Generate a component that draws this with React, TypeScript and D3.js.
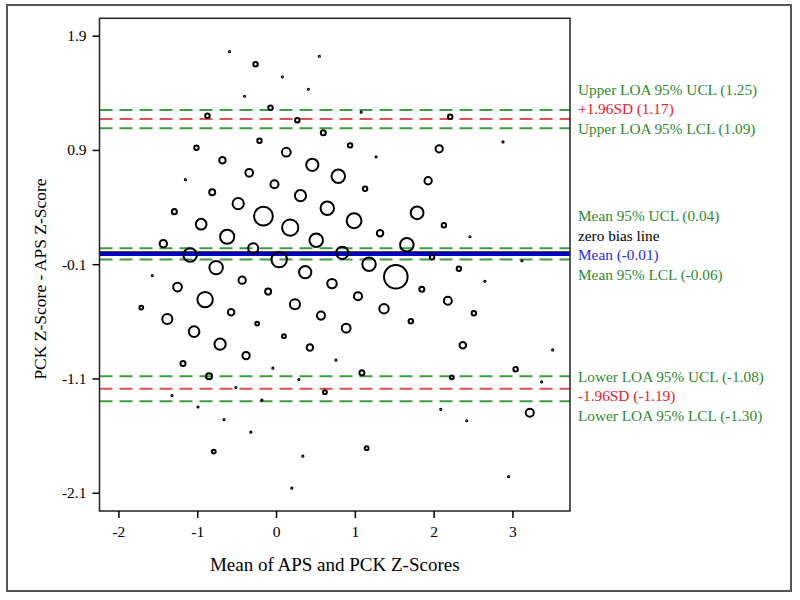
import React, { useEffect, useRef } from "react";
import * as d3 from "d3";

// Bubble Bland-Altman plot: mean of the two z-scores vs their difference
const meanX = [
  -0.59, 0.55, -0.26, 0.08, 0.41, -0.4, -0.07, -0.87, 0.27, 0.6,
  -0.21, -1.01, -0.68, 0.13, 0.46, -1.15, -0.34, 0.79, -0.02, -0.81,
  0.31, -1.29, -0.48, -0.16, 0.65, -0.95, 0.18, -0.62, -1.43, -0.29,
  0.51, -1.09, 0.04, -0.76, 0.37, 0.84, 1.18, 1.52, 1.08, 2.21,
  2.88, 0.94, 1.27, 2.07, 1.13, 1.93, 0.99, 1.79, 1.32, 2.13,
  2.46, 1.66, 1.98, 3.12, 2.32, 2.65, -1.57, -1.25, -0.43, 0.71,
  -1.71, -0.9, -0.1, 0.24, -1.38, -0.57, 0.57, -1.04, -0.24, -0.71,
  0.1, 0.43, -0.38, -1.18, -0.04, 0.76, -0.85, 0.29, -0.51, 0.62,
  -1.32, -0.18, -0.99, -0.66, -0.32, -0.79, 0.34, 0.2, 1.85, 1.04,
  1.37, 2.18, 1.71, 2.51, 0.89, 2.37, 3.51, 1.09, 2.23, 3.04,
  3.37, 2.09, 2.42, 3.22, 1.15, 2.95,
];
const diffY = [
  1.76, 1.72, 1.65, 1.54, 1.43, 1.37, 1.27, 1.2, 1.16, 1.05,
  0.98, 0.92, 0.81, 0.88, 0.77, 0.64, 0.7, 0.67, 0.6, 0.53,
  0.5, 0.36, 0.43, 0.32, 0.39, 0.25, 0.22, 0.14, 0.08, 0.04,
  0.11, -0.02, -0.06, -0.13, -0.17, 0.0, -0.1, -0.21, 1.23, 1.19,
  0.97, 0.94, 0.84, 0.91, 0.56, 0.63, 0.28, 0.35, 0.17, 0.24,
  0.14, 0.07, -0.04, -0.07, -0.14, -0.25, -0.2, -0.3, -0.24, -0.27,
  -0.48, -0.41, -0.34, -0.45, -0.58, -0.52, -0.55, -0.69, -0.62, -0.8,
  -0.73, -0.83, -0.9, -0.97, -1.01, -0.94, -1.08, -1.11, -1.18, -1.22,
  -1.25, -1.29, -1.35, -1.46, -1.57, -1.74, -1.78, -2.06, -0.32, -0.38,
  -0.49, -0.42, -0.6, -0.53, -0.66, -0.81, -0.85, -1.05, -1.09, -1.02,
  -1.13, -1.37, -1.47, -1.4, -1.71, -1.96,
];
const freq = [
  1, 1, 5, 1, 1, 1, 5, 5, 5, 6,
  5, 5, 9, 15, 27, 1, 12, 32, 13, 8,
  23, 6, 23, 59, 32, 21, 45, 35, 11, 19,
  32, 32, 41, 32, 27, 27, 32, 90, 1, 5,
  1, 5, 1, 11, 5, 11, 38, 29, 9, 5,
  1, 32, 5, 1, 5, 1, 1, 15, 11, 17,
  4, 41, 8, 19, 19, 9, 13, 21, 4, 23,
  4, 9, 11, 6, 1, 1, 8, 1, 1, 4,
  1, 1, 1, 1, 1, 4, 1, 1, 6, 13,
  17, 13, 5, 5, 15, 9, 1, 6, 4, 5,
  1, 1, 1, 13, 4, 1,
];

const xTicks = [-2, -1, 0, 1, 2, 3];
const yTicks = [1.9, 0.9, -0.1, -1.1, -2.1];

const refLabels = [
  "Upper LOA 95% UCL (1.25)",
  "+1.96SD (1.17)",
  "Upper LOA 95% LCL (1.09)",
  "Mean 95% UCL (0.04)",
  "zero bias line",
  "Mean (-0.01)",
  "Mean 95% LCL (-0.06)",
  "Lower LOA 95% UCL (-1.08)",
  "-1.96SD (-1.19)",
  "Lower LOA 95% LCL (-1.30)",
];
const refValues = [1.25, 1.17, 1.09, 0.04, 0, -0.01, -0.06, -1.08, -1.19, -1.3];
const refKinds = ["ci", "loa", "ci", "ci", "zero", "mean", "ci", "ci", "loa", "ci"];
const refGroups = [0, 0, 0, 1, 1, 1, 1, 2, 2, 2];

const lineColor: Record<string, string> = {
  ci: "#3f9b3f",
  loa: "#e05050",
  zero: "#000000",
  mean: "#0000cc",
};
const textColor: Record<string, string> = {
  ci: "#2f8a2f",
  loa: "#e8202a",
  zero: "#000000",
  mean: "#2a2ae6",
};

const FONT = "'Liberation Serif', 'Times New Roman', serif";

const App: React.FC = () => {
  const svgRef = useRef<SVGSVGElement>(null);

  useEffect(() => {
    if (!svgRef.current) return;
    const svg = d3.select(svgRef.current);
    svg.selectAll("*").remove();

    const left = 99.5, right = 570, top = 18.3, bottom = 511;

    const x = d3.scaleLinear().domain([-2.24, 3.73]).range([left, right]);
    const y = d3.scaleLinear().domain([-2.26, 2.052]).range([bottom, top]);
    const r = d3.scaleSqrt().domain([1, 90]).range([0.6, 11.8]);

    // outer frame
    svg.append("rect")
      .attr("x", 7).attr("y", 5).attr("width", 784).attr("height", 586)
      .attr("fill", "white").attr("stroke", "#555").attr("stroke-width", 2);

    // reference lines
    const refs = refValues.map((v, i) => ({
      v, label: refLabels[i], kind: refKinds[i], group: refGroups[i],
    }));

    const dashed = refs.filter((d) => d.kind === "ci" || d.kind === "loa");
    svg.selectAll(".ref")
      .data(dashed)
      .enter()
      .append("line")
      .attr("x1", left).attr("x2", right)
      .attr("y1", (d) => y(d.v)).attr("y2", (d) => y(d.v))
      .attr("stroke", (d) => lineColor[d.kind])
      .attr("stroke-width", 2)
      .attr("stroke-dasharray", "13,7");

    const meanRef = refs.find((d) => d.kind === "mean")!;
    svg.append("line")
      .attr("x1", left).attr("x2", right)
      .attr("y1", y(meanRef.v)).attr("y2", y(meanRef.v))
      .attr("stroke", lineColor.mean).attr("stroke-width", 4);

    const zeroRef = refs.find((d) => d.kind === "zero")!;
    svg.append("line")
      .attr("x1", left).attr("x2", right)
      .attr("y1", y(zeroRef.v) - 1).attr("y2", y(zeroRef.v) - 1)
      .attr("stroke", lineColor.zero).attr("stroke-width", 1);

    // bubbles
    const pts = meanX.map((mx, i) => ({ mx, dy: diffY[i], n: freq[i] }));
    svg.selectAll(".bubble")
      .data(pts)
      .enter()
      .append("circle")
      .attr("cx", (d) => x(d.mx))
      .attr("cy", (d) => y(d.dy))
      .attr("r", (d) => r(d.n))
      .attr("fill", "none")
      .attr("stroke", "#000")
      .attr("stroke-width", 2);

    // plot frame
    svg.append("rect")
      .attr("x", left).attr("y", top)
      .attr("width", right - left).attr("height", bottom - top)
      .attr("fill", "none").attr("stroke", "#222").attr("stroke-width", 1.5);

    // axes
    const yAxis = svg.append("g")
      .attr("transform", `translate(${left},0)`)
      .call(d3.axisLeft(y).tickValues(yTicks).tickSize(7).tickPadding(6)
        .tickFormat((d) => String(d)));
    const xAxis = svg.append("g")
      .attr("transform", `translate(0,${bottom})`)
      .call(d3.axisBottom(x).tickValues(xTicks).tickSize(7).tickPadding(8)
        .tickFormat((d) => String(d)));
    [xAxis, yAxis].forEach((g) => {
      g.select(".domain").remove();
      g.selectAll("line").attr("stroke", "#000").attr("stroke-width", 1.5);
      g.selectAll("text")
        .style("font-family", FONT)
        .style("font-size", "15.5px")
        .attr("fill", "#000");
    });

    // axis titles
    svg.append("text")
      .attr("x", (left + right) / 2)
      .attr("y", 571)
      .attr("text-anchor", "middle")
      .style("font-family", FONT)
      .style("font-size", "19px")
      .text("Mean of APS and PCK Z-Scores");

    svg.append("text")
      .attr("transform", "translate(46,279) rotate(-90)")
      .attr("text-anchor", "middle")
      .style("font-family", FONT)
      .style("font-size", "17.5px")
      .text("PCK Z-Score - APS Z-Score");

    // reference labels, stacked per group
    const groupStart = [y(1.25) - 20.5, y(0.04) - 32.5, y(-1.08)];
    const rowGap = 19.5;
    refs.forEach((d, i) => {
      const idx = refs.filter((e, j) => j < i && e.group === d.group).length;
      svg.append("text")
        .attr("x", 578)
        .attr("y", groupStart[d.group] + idx * rowGap)
        .attr("dy", "0.35em")
        .style("font-family", FONT)
        .style("font-size", "15.3px")
        .attr("fill", textColor[d.kind])
        .text(d.label);
    });
  }, []);

  return (
    <svg
      ref={svgRef}
      width={800}
      height={600}
      style={{ position: "absolute", left: 0, top: 0, background: "white" }}
    />
  );
};

export default App;
